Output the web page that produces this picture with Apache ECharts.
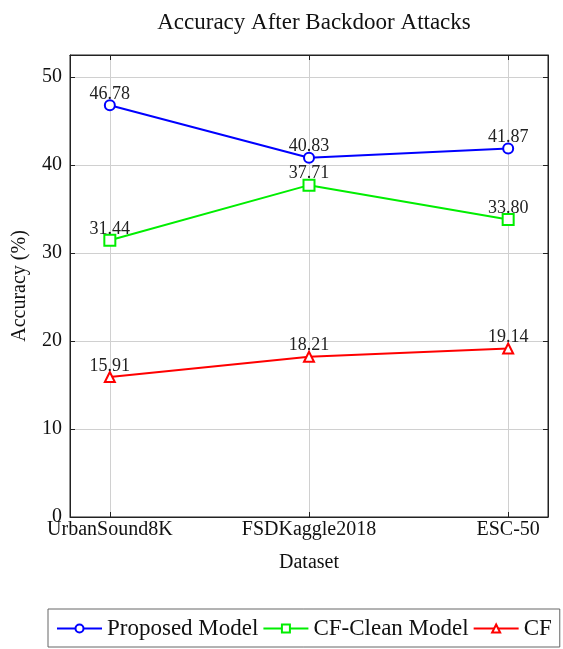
<!DOCTYPE html>
<html><head><meta charset="utf-8">
<script src="https://cdn.jsdelivr.net/npm/echarts@6/dist/echarts.min.js"></script>
<style>html,body{margin:0;padding:0;background:#fff}#c{width:563px;height:649px}</style>
</head><body><div id="c"></div>
<script>
const categories = ['UrbanSound8K', 'FSDKaggle2018', 'ESC-50'];
const proposed = [46.78, 40.83, 41.87];
const cfClean = [31.44, 37.71, 33.80];
const cf = [15.91, 18.21, 19.14];
const yTicks = [0, 10, 20, 30, 40, 50];
const xTicks = [0, 1, 2];

const F = 'Liberation Serif';
const chart = echarts.init(document.getElementById('c'));
function mk(name, vals, color, symbol, size, filled) {
  return {
    name: name, type: 'line',
    data: vals.map((v, i) => [i, v]),
    symbol: symbol, symbolSize: size, showAllSymbol: true,
    lineStyle: {color: color, width: 2},
    itemStyle: {color: filled ? color : '#fff', borderColor: color, borderWidth: 2},
    label: {show: true, position: 'top', distance: -4, color: '#222', fontFamily: F, fontSize: 18,
      formatter: p => p.value[1].toFixed(2)},
    emphasis: {disabled: true}, z: 3
  };
}
const tickOnly = (pos, vals, isX) => ({
  type: 'value', min: isX ? -0.2 : 0, max: isX ? 2.2 : 52.5, position: pos,
  axisLine: {show: true, onZero: false, lineStyle: {color: '#222'}},
  axisTick: {show: true, inside: true, length: 5, customValues: vals, lineStyle: {color: '#222'}},
  axisLabel: {show: false}, splitLine: {show: false}
});
chart.setOption({
  animation: false,
  title: {text: 'Accuracy After Backdoor Attacks', left: 309, top: 6, textAlign: 'center',
    textStyle: {fontFamily: F, fontSize: 23, fontWeight: 'normal', color: '#111'}},
  grid: {left: 70, right: 15, top: 55, bottom: 132, show: true, borderColor: '#222', borderWidth: 1},
  xAxis: [{
    type: 'value', min: -0.2, max: 2.2,
    name: 'Dataset', nameLocation: 'middle', nameGap: 36,
    nameTextStyle: {fontFamily: F, fontSize: 20, color: '#111'},
    axisLine: {show: true, onZero: false, lineStyle: {color: '#222'}},
    axisTick: {show: true, inside: true, length: 5, customValues: xTicks, lineStyle: {color: '#222'}},
    axisLabel: {customValues: xTicks, formatter: v => categories[Math.round(v)], margin: 3,
      fontFamily: F, fontSize: 20, color: '#111'},
    splitLine: {show: true, lineStyle: {color: '#d0d0d0'}}
  }, tickOnly('top', xTicks, true)],
  yAxis: [{
    type: 'value', min: 0, max: 52.5,
    name: 'Accuracy (%)', nameLocation: 'middle', nameGap: 40,
    nameTextStyle: {fontFamily: F, fontSize: 20, color: '#111'},
    axisLine: {show: true, onZero: false, lineStyle: {color: '#222'}},
    axisTick: {show: true, inside: true, length: 5, customValues: yTicks, lineStyle: {color: '#222'}},
    axisLabel: {customValues: yTicks, margin: 8, fontFamily: F, fontSize: 20, color: '#111'},
    splitLine: {show: true, lineStyle: {color: '#d0d0d0'}}
  }, tickOnly('right', yTicks, false)],
  legend: {
    left: 48, top: 609, itemGap: 4, itemWidth: 45, itemHeight: 10,
    padding: [8, 8, 7, 8],
    borderColor: '#666', borderWidth: 1,
    textStyle: {fontFamily: F, fontSize: 23, color: '#111'},
    data: ['Proposed Model', 'CF-Clean Model', 'CF']
  },
  series: [
    mk('Proposed Model', proposed, '#0000ff', 'circle', 10, false),
    mk('CF-Clean Model', cfClean, '#00ee00', 'rect', 11, false),
    mk('CF', cf, '#ff0000', 'triangle', 10, false)
  ]
});
</script></body></html>
